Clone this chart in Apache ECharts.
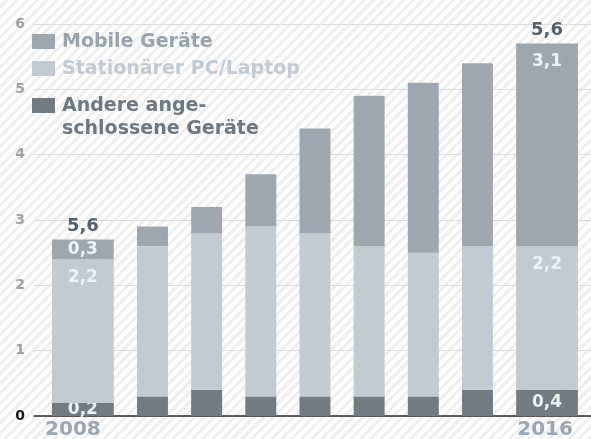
<!DOCTYPE html>
<html>
<head>
<meta charset="utf-8">
<script src="https://cdn.jsdelivr.net/npm/echarts@6/dist/echarts.min.js"></script>
<style>
  html, body { margin: 0; padding: 0; }
  body {
    background: repeating-linear-gradient(135deg, #ffffff 0px, #ffffff 4px, #efefef 4px, #efefef 7px);
  }
  #chart { width: 591px; height: 439px; }
</style>
</head>
<body>
<div id="chart"></div>
<script>
// Werte (Anzahl Geräte pro Person)
var years = ['2008', '2009', '2010', '2011', '2012', '2013', '2014', '2015', '2016']
var andere = [0.2, 0.3, 0.4, 0.3, 0.3, 0.3, 0.3, 0.4, 0.4]
var stationaer = [2.2, 2.3, 2.4, 2.6, 2.5, 2.3, 2.2, 2.2, 2.2]
var mobile = [0.3, 0.3, 0.4, 0.8, 1.6, 2.3, 2.6, 2.8, 3.1]
// Beschriftungen wie im Original (nur erste und letzte Säule)
var totalLabels = ['5,6', '', '', '', '', '', '', '', '5,6']
var yearLabels = ['2008', '', '', '', '', '', '', '', '2016']
var yTicks = [0, 1, 2, 3, 4, 5, 6]

var colors = {
  mobile: '#9ea7b0',
  stationaer: '#c3cad1',
  andere: '#737a82'
}
var font = '"DejaVu Sans", sans-serif'
var last = years.length - 1

function fmt(v) {
  return String(v).replace('.', ',')
}

// Stapel aufbauen: [index, unten, oben]
function layer(values, below) {
  return values.map(function (v, i) {
    var base = 0
    for (var k = 0; k < below.length; k++) base += below[k][i]
    return [i, base, base + v]
  })
}

function makeRender(values, kind) {
  return function (params, api) {
    var i = api.value(0)
    var base = api.value(1)
    var top = api.value(2)
    var l = i - 0.286, r = i + 0.286
    // erste und letzte Säule sind breiter
    if (i === 0) l = i - 0.855
    if (i === last) r = i + 0.855
    var p1 = api.coord([l, top])
    var p2 = api.coord([r, base])
    var children = [{
      type: 'rect',
      shape: { x: p1[0], y: p1[1], width: p2[0] - p1[0], height: p2[1] - p1[1] },
      style: { fill: colors[kind] }
    }]
    var cx = (p1[0] + p2[0]) / 2
    if (i === 0 || i === last) {
      var h = p2[1] - p1[1]
      var ty = h > 40 && kind !== 'andere' ? p1[1] + 18 : (p1[1] + p2[1]) / 2
      children.push({
        type: 'text',
        style: {
          text: fmt(values[i]), x: cx, y: ty, align: 'center', verticalAlign: 'middle',
          fill: '#eef1f4', font: 'bold 17px ' + font
        }
      })
      if (kind === 'mobile' && totalLabels[i]) {
        children.push({
          type: 'text',
          style: {
            text: totalLabels[i], x: cx, y: p1[1] - 13, align: 'center', verticalAlign: 'middle',
            fill: '#586067', font: 'bold 18px ' + font
          }
        })
      }
      if (kind === 'andere' && yearLabels[i]) {
        children.push({
          type: 'text',
          style: {
            text: yearLabels[i], x: i === 0 ? cx - 10 : cx - 2, y: p2[1] + 14, align: 'center', verticalAlign: 'middle',
            fill: '#9ea7b0', font: 'bold 20px ' + font
          }
        })
      }
    }
    return { type: 'group', children: children }
  }
}

var chart = echarts.init(document.getElementById('chart'), null, { renderer: 'canvas' })

var legendItems = [
  { name: 'Mobile Geräte', color: colors.mobile, textColor: '#9aa3ac', y: 34 },
  { name: 'Stationärer PC/Laptop', color: colors.stationaer, textColor: '#c3cad1', y: 61 },
  { name: 'Andere ange-\nschlossene Geräte', color: colors.andere, textColor: '#6f777f', y: 98 }
]
var graphics = []
legendItems.forEach(function (it) {
  graphics.push({
    type: 'rect', left: 32, top: it.y, z: 100,
    shape: { width: 23, height: 15 },
    style: { fill: it.color }
  })
  graphics.push({
    type: 'text', left: 62, top: it.y - 3, z: 100,
    style: { text: it.name, fill: it.textColor, font: 'bold 19px ' + font, lineHeight: 23 }
  })
})

chart.setOption({
  backgroundColor: 'transparent',
  animation: false,
  grid: { left: 34, right: 0, top: 24, bottom: 23 },
  xAxis: {
    type: 'value',
    min: -1.187,
    max: 9.096,
    axisLine: { show: true, onZero: true, lineStyle: { color: '#2b2b2b', width: 1.5 } },
    axisTick: { show: false },
    axisLabel: { show: false },
    splitLine: { show: false }
  },
  yAxis: {
    type: 'value',
    min: yTicks[0],
    max: yTicks[yTicks.length - 1],
    interval: 1,
    axisLine: { show: false },
    axisTick: { show: false },
    axisLabel: {
      margin: 9,
      fontFamily: font,
      fontWeight: 'bold',
      fontSize: 14,
      color: function (v) { return Number(v) === 0 ? '#1a1a1a' : '#a0a0a0' }
    },
    splitLine: { lineStyle: { color: '#dcdcdc', width: 1 } }
  },
  graphic: graphics,
  series: [
    {
      name: 'Andere angeschlossene Geräte',
      type: 'custom',
      renderItem: makeRender(andere, 'andere'),
      data: layer(andere, [])
    },
    {
      name: 'Stationärer PC/Laptop',
      type: 'custom',
      renderItem: makeRender(stationaer, 'stationaer'),
      data: layer(stationaer, [andere])
    },
    {
      name: 'Mobile Geräte',
      type: 'custom',
      renderItem: makeRender(mobile, 'mobile'),
      data: layer(mobile, [andere, stationaer])
    }
  ]
})
</script>
</body>
</html>
